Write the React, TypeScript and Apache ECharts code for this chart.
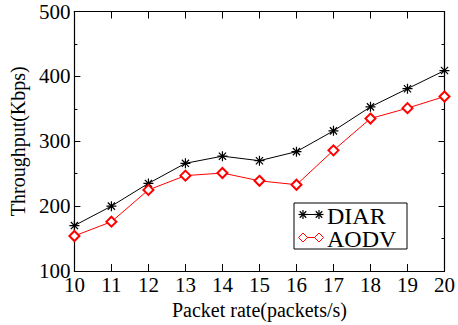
import React, { useEffect, useRef } from "react";
import * as echarts from "echarts";

const packetRates = [10, 11, 12, 13, 14, 15, 16, 17, 18, 19, 20];
const diarValues = [170, 200, 235, 266, 277, 270, 284, 316, 353, 381, 409];
const aodvValues = [154, 176, 225, 247, 251, 239, 233, 286, 335, 351, 369];
const seriesNames = ["DIAR", "AODV"];
const seriesColors = ["#000000", "#ff0000"];

const FONT = "Liberation Serif";
const ASTERISK = "path://M0,-1L0,1M-1,0L1,0M-0.72,-0.72L0.72,0.72M-0.72,0.72L0.72,-0.72";

function asterisk(cx: number, cy: number, r: number, color: string) {
  const d = r * 0.72;
  const segs = [
    [0, -r, 0, r],
    [-r, 0, r, 0],
    [-d, -d, d, d],
    [-d, d, d, -d],
  ];
  return segs.map((s) => ({
    type: "line",
    shape: { x1: cx + s[0], y1: cy + s[1], x2: cx + s[2], y2: cy + s[3] },
    style: { stroke: color, lineWidth: 1.2 },
  }));
}

function diamond(cx: number, cy: number, r: number, color: string) {
  return {
    type: "polygon",
    shape: { points: [[cx, cy - r], [cx + r, cy], [cx, cy + r], [cx - r, cy]] },
    style: { stroke: color, fill: "#fff", lineWidth: 1 },
  };
}

export default function App() {
  const ref = useRef<HTMLDivElement>(null);
  useEffect(() => {
    document.body.style.margin = "0";
    if (!ref.current) return;
    const chart = echarts.init(ref.current, null, { renderer: "svg" });
    const xy = (v: number[]) => packetRates.map((x, i) => [x, v[i]]);

    const lx = 294, ly = 203, lw = 113, lh = 46;
    const rows = [214.5, 237.5];
    const legendEls: any[] = [
      { type: "rect", shape: { x: lx, y: ly, width: lw, height: lh }, style: { fill: "#fff", stroke: "#000", lineWidth: 1 } },
    ];
    seriesNames.forEach((name, i) => {
      const y = rows[i];
      const c = seriesColors[i];
      legendEls.push({ type: "line", shape: { x1: 303, y1: y, x2: 319, y2: y }, style: { stroke: c, lineWidth: 1 } });
      if (i === 0) {
        legendEls.push(...asterisk(303, y, 4.5, c), ...asterisk(319, y, 4.5, c));
      } else {
        legendEls.push(diamond(303, y, 4.5, c), diamond(319, y, 4.5, c));
      }
      legendEls.push({
        type: "text",
        style: {
          text: name, x: 327, y: y + 1, textVerticalAlign: "middle",
          fontSize: 24, fontFamily: FONT, lineHeight: 21, fill: "#000",
        },
      });
    });

    const axisCommon = {
      axisLine: { lineStyle: { color: "#000", width: 1.2 } },
      splitLine: { show: false },
    };

    chart.setOption({
      animation: false,
      backgroundColor: "#fff",
      textStyle: { fontFamily: FONT },
      grid: { left: 67, right: 11, top: 11.5, bottom: 47, containLabel: false },
      xAxis: [
        {
          type: "value", min: 10, max: 20, interval: 1, position: "bottom",
          ...axisCommon,
          axisTick: { inside: true, length: 7, lineStyle: { color: "#000" } },
          axisLabel: { color: "#000", fontSize: 21, fontFamily: FONT, margin: 3 },
          name: "Packet rate(packets/s)", nameLocation: "middle", nameGap: 29,
          nameTextStyle: { color: "#000", fontSize: 20, fontFamily: FONT },
        },
        {
          type: "value", min: 10, max: 20, interval: 1, position: "top",
          ...axisCommon,
          axisTick: { inside: true, length: 7, lineStyle: { color: "#000" } },
          axisLabel: { show: false },
        },
      ],
      yAxis: [
        {
          type: "value", min: 100, max: 500, interval: 100, position: "left",
          ...axisCommon,
          axisTick: { inside: true, length: 6, lineStyle: { color: "#000" } },
          minorTick: { show: true, splitNumber: 2, length: 3, lineStyle: { color: "#000" } },
          axisLabel: { color: "#000", fontSize: 21, fontFamily: FONT, margin: 4 },
          name: "Throughput(Kbps)", nameLocation: "middle", nameGap: 42,
          nameTextStyle: { color: "#000", fontSize: 20, fontFamily: FONT },
        },
        {
          type: "value", min: 100, max: 500, interval: 100, position: "right",
          ...axisCommon,
          axisTick: { inside: true, length: 6, lineStyle: { color: "#000" } },
          minorTick: { show: true, splitNumber: 2, length: 3, lineStyle: { color: "#000" } },
          axisLabel: { show: false },
        },
      ],
      series: [
        {
          name: seriesNames[0], type: "line", data: xy(diarValues),
          symbol: ASTERISK, symbolSize: 10,
          itemStyle: { color: seriesColors[0], borderColor: seriesColors[0], borderWidth: 1.2 },
          lineStyle: { color: seriesColors[0], width: 1 },
        },
        {
          name: seriesNames[1], type: "line", data: xy(aodvValues),
          symbol: "emptyDiamond", symbolSize: 10,
          itemStyle: { color: seriesColors[1], borderColor: seriesColors[1], borderWidth: 1 },
          lineStyle: { color: seriesColors[1], width: 1 },
        },
      ],
      graphic: legendEls,
    });
    return () => chart.dispose();
  }, []);
  return <div ref={ref} style={{ width: 458, height: 325 }} />;
}
